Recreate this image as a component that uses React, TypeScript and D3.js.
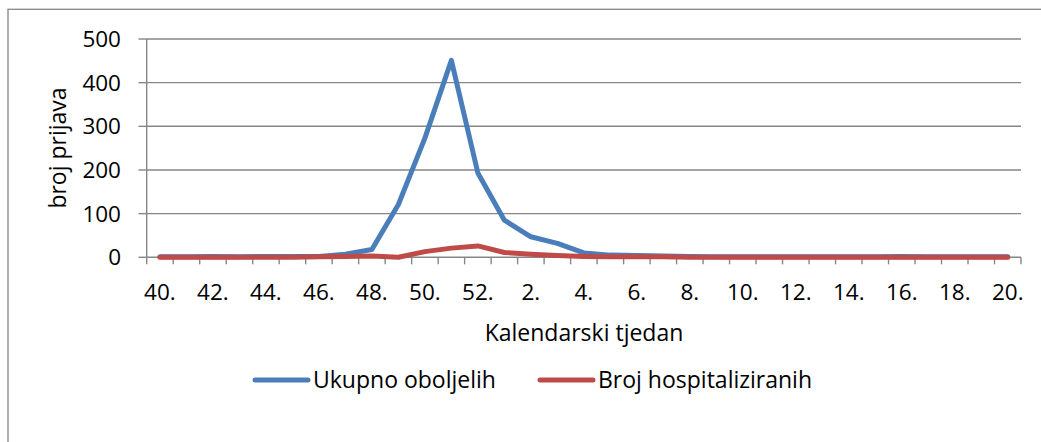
import React from "react";
import * as d3 from "d3";

// kalendarski tjedni 40.–52. pa 1.–20.
const weeks = [
  40, 41, 42, 43, 44, 45, 46, 47, 48, 49, 50, 51, 52,
  1, 2, 3, 4, 5, 6, 7, 8, 9, 10, 11, 12, 13, 14, 15, 16, 17, 18, 19, 20,
];
const ukupno = [
  1, 1, 2, 1, 2, 2, 2, 7, 18, 121, 273, 451, 193,
  85, 47, 32, 10, 5, 4, 3, 2, 1, 1, 1, 1, 1, 1, 1, 2, 1, 1, 1, 1,
];
const hospitalizirani = [
  0, 0, 0, 0, 0, 0, 1, 2, 3, 0, 13, 21, 26,
  11, 7, 4, 2, 1, 1, 1, 0, 0, 0, 0, 0, 0, 0, 0, 0, 0, 0, 0, 0,
];
const yTicks = [0, 100, 200, 300, 400, 500];

const series = [
  { name: "Ukupno oboljelih", values: ukupno, color: "#4A7EBB" },
  { name: "Broj hospitaliziranih", values: hospitalizirani, color: "#BE4B48" },
];

const W = 1041;
const H = 442;
const font = "'Open Sans', sans-serif";
const grid = "#868686";

const App = () => {
  const x = d3
    .scaleBand<number>()
    .domain(d3.range(weeks.length))
    .range([146.7, 1021])
    .padding(0);
  const y = d3.scaleLinear().domain([0, 500]).range([257.3, 39]);
  const cx = (i: number) => (x(i) as number) + x.bandwidth() / 2;
  const line = d3
    .line<number>()
    .x((_, i) => cx(i))
    .y(d => y(d));

  const tickXs = d3.range(weeks.length + 1).map(i => 146.7 + i * x.bandwidth());

  return (
    <svg
      width={W}
      height={H}
      style={{ position: "absolute", left: 0, top: 0 }}
      fontFamily={font}
    >
      <rect x={0} y={0} width={W} height={H} fill="#fff" />
      <rect x={8} y={9.3} width={W + 10} height={H + 10} fill="none" stroke={grid} strokeWidth={1.3} />

      {yTicks.map(t => (
        <g key={t}>
          {t > 0 && (
            <line x1={146.7} x2={1021} y1={y(t)} y2={y(t)} stroke={grid} strokeWidth={1.4} />
          )}
          <line x1={138.5} x2={146.7} y1={y(t)} y2={y(t)} stroke={grid} strokeWidth={1.4} />
          <text x={121} y={y(t)} dy="0.36em" textAnchor="end" fontSize={22.5} fill="#000">
            {t}
          </text>
        </g>
      ))}

      <line x1={146.7} x2={146.7} y1={y(500)} y2={y(0)} stroke={grid} strokeWidth={1.4} />
      <line x1={146.7} x2={1021} y1={y(0)} y2={y(0)} stroke={grid} strokeWidth={1.4} />
      {tickXs.map((tx, i) => (
        <line key={i} x1={tx} x2={tx} y1={y(0)} y2={y(0) + 7} stroke={grid} strokeWidth={1.4} />
      ))}

      {weeks.map((w, i) =>
        i % 2 === 0 ? (
          <text key={i} x={cx(i)} y={300} textAnchor="middle" fontSize={22.5} fill="#000">
            {w}.
          </text>
        ) : null
      )}

      <text x={584} y={341} textAnchor="middle" fontSize={23} fill="#000">
        Kalendarski tjedan
      </text>
      <text
        transform={`translate(66,148) rotate(-90)`}
        textAnchor="middle"
        fontSize={23}
        fill="#000"
      >
        broj prijava
      </text>

      {series.map(s => (
        <path
          key={s.name}
          d={line(s.values) as string}
          fill="none"
          stroke={s.color}
          strokeWidth={5}
          strokeLinejoin="round"
          strokeLinecap="round"
        />
      ))}

      {series.map((s, i) => {
        const lx = i === 0 ? 255 : 540;
        return (
          <g key={s.name}>
            <line x1={lx} x2={lx + 53} y1={380} y2={380} stroke={s.color} strokeWidth={5} strokeLinecap="round" />
            <text x={lx + 58} y={380} dy="0.36em" fontSize={23} fill="#000">
              {s.name}
            </text>
          </g>
        );
      })}
    </svg>
  );
};

export default App;
